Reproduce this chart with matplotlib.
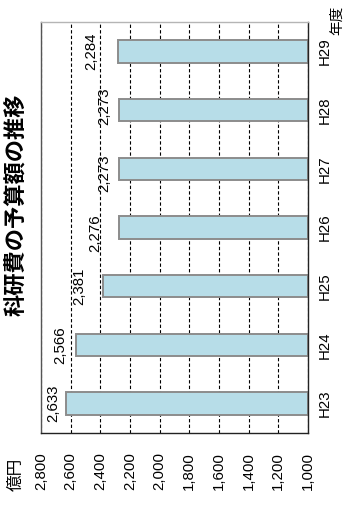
import matplotlib
matplotlib.use("Agg")
import matplotlib.pyplot as plt

plt.rcParams['font.family'] = ['Liberation Sans', 'Noto Sans CJK JP', 'DejaVu Sans']

# Data
years = ["H23", "H24", "H25", "H26", "H27", "H28", "H29"]
budget = [2633, 2566, 2381, 2276, 2273, 2273, 2284]
value_ticks = [1000, 1200, 1400, 1600, 1800, 2000, 2200, 2400, 2600, 2800]
value_tick_labels = ["1,000", "1,200", "1,400", "1,600", "1,800",
                     "2,000", "2,200", "2,400", "2,600", "2,800"]
base = 1000

# label nudges (points): along the value axis (negative = outward), along the category axis
label_shift = [(-9, 0), (-11, 0), (-17, 0), (-17, -4), (-11, -3), (-11, 3), (-19, 0)]

fig = plt.figure(figsize=(3.45, 5.11), dpi=100)
ax = fig.add_axes([41 / 345, 1 - 433 / 511, 267 / 345, 411 / 511])

ypos = list(range(len(years)))
ax.barh(ypos, [v - base for v in budget], left=base, height=0.38,
        color="#b7dde8", edgecolor="#8c8c8c", linewidth=1.4, zorder=3)

ax.set_xlim(2800, 1000)
ax.set_ylim(-0.5, len(years) - 0.5)

ax.set_xticks(value_ticks)
ax.set_xticklabels(value_tick_labels, rotation=90, ha="center", va="top", fontsize=10.8)
ax.tick_params(axis="x", length=0, pad=14)

ax.yaxis.tick_right()
ax.set_yticks(ypos)
ax.set_yticklabels(years, rotation=90, va="center", ha="left", fontsize=10.8)
ax.tick_params(axis="y", length=0, pad=7)

ax.set_axisbelow(True)
ax.grid(axis="x", color="black", linestyle=(0, (3, 2)), linewidth=0.8)
ax.grid(axis="y", visible=False)

ax.spines["top"].set_color("#b5b5b5")
ax.spines["left"].set_color("#555555")
ax.spines["bottom"].set_color("#222222")
ax.spines["right"].set_color("#222222")
for s in ax.spines.values():
    s.set_linewidth(1.0)
    s.set_zorder(4)

for y, v, (dx, dy) in zip(ypos, budget, label_shift):
    ax.annotate(f"{v:,}", xy=(v, y), xytext=(dx, dy), textcoords="offset points",
                rotation=90, ha="center", va="center", fontsize=10.8)

fig.text(17 / 345, 1 - 205 / 511, "科研費の予算額の推移", rotation=90,
         ha="center", va="center", fontsize=16, fontweight="bold",
         family=["Noto Sans CJK JP", "DejaVu Sans"])
fig.text(16.5 / 345, 1 - 474 / 511, "億円", rotation=90, ha="center", va="center",
         fontsize=12, family=["Noto Sans CJK JP", "DejaVu Sans"])
fig.text(337 / 345, 1 - 20 / 511, "年度", rotation=90, ha="center", va="center",
         fontsize=10.5, family=["Noto Sans CJK JP", "DejaVu Sans"])

fig.savefig("out.png", dpi=100)
